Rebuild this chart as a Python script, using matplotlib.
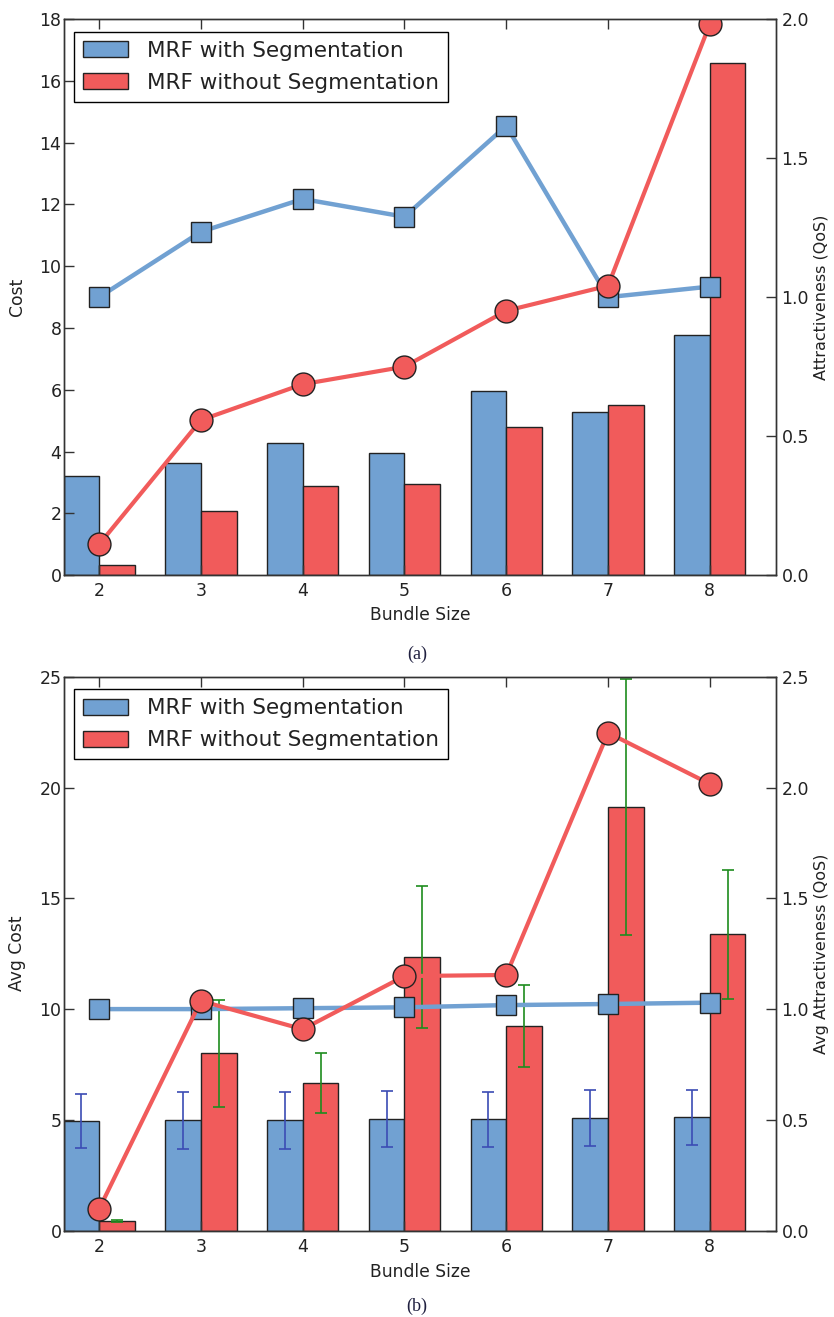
import matplotlib
matplotlib.use("Agg")
import matplotlib.pyplot as plt
import numpy as np

# Bundle sizes on the x axis
bundle_sizes = [2, 3, 4, 5, 6, 7, 8]

# (a) total cost (bars) and attractiveness (lines)
cost_seg = [3.22, 3.62, 4.29, 3.95, 5.97, 5.29, 7.77]
cost_noseg = [0.33, 2.07, 2.90, 2.95, 4.80, 5.52, 16.59]
attr_seg = [1.00, 1.235, 1.353, 1.289, 1.616, 1.00, 1.038]
attr_noseg = [0.111, 0.558, 0.687, 0.75, 0.951, 1.041, 1.982]

# (b) average cost with spread (bars) and average attractiveness (lines)
avg_cost_seg = [4.95, 4.98, 4.98, 5.03, 5.03, 5.10, 5.12]
avg_cost_seg_err = [1.24, 1.28, 1.28, 1.26, 1.25, 1.27, 1.25]
avg_cost_noseg = [0.44, 8.0, 6.65, 12.36, 9.24, 19.13, 13.37]
avg_cost_noseg_err = [0.05, 2.42, 1.35, 3.2, 1.85, 5.77, 2.9]
avg_attr_seg = [1.0, 1.0, 1.004, 1.008, 1.018, 1.023, 1.029]
avg_attr_noseg = [0.098, 1.037, 0.909, 1.149, 1.154, 2.247, 2.016]

series_labels = ["MRF with Segmentation", "MRF without Segmentation"]

BLUE = "#71A1D2"
RED = "#F15B5B"
EDGE = "#222222"
SPINE = "#333333"
TEXT = "#222222"

plt.rcParams["font.family"] = ["DejaVu Sans"]
plt.rcParams["text.color"] = TEXT
plt.rcParams["axes.labelcolor"] = TEXT
plt.rcParams["xtick.color"] = SPINE
plt.rcParams["ytick.color"] = SPINE
plt.rcParams["xtick.labelcolor"] = TEXT
plt.rcParams["ytick.labelcolor"] = TEXT

W, H = 834, 1317
fig = plt.figure(figsize=(W / 100, H / 100), dpi=100)

def px_axes(left, top, right, bottom):
    return fig.add_axes([left / W, 1 - bottom / H, (right - left) / W, (bottom - top) / H])

width = 0.35
x = np.array(bundle_sizes, dtype=float)
TICK_FS = 12.5
LABEL_FS = 12.3


def style_axes(ax, ax2):
    for a in (ax, ax2):
        for s in a.spines.values():
            s.set_color(SPINE)
            s.set_linewidth(1.0)
    ax.tick_params(axis="x", direction="in", top=True, bottom=True, length=7, width=1,
                   labelsize=TICK_FS, pad=5)
    ax.tick_params(axis="y", direction="in", left=True, right=False, length=7, width=1,
                   labelsize=TICK_FS, pad=1.5)
    ax2.tick_params(axis="y", direction="in", right=True, left=False, length=7, width=1,
                    labelsize=TICK_FS, pad=4)


def draw_panel(ax, ax2, seg_vals, noseg_vals, seg_line, noseg_line,
               ymax, y2max, ylabel, y2label, xlabel_y, seg_err=None, noseg_err=None):
    ax.bar(x - width, seg_vals, width, align="edge", color=BLUE, edgecolor=EDGE,
           linewidth=1.0, label=series_labels[0])
    ax.bar(x, noseg_vals, width, align="edge", color=RED, edgecolor=EDGE,
           linewidth=1.0, label=series_labels[1])
    if seg_err is not None:
        ax.errorbar(x - width / 2, seg_vals, yerr=seg_err, fmt="none",
                    ecolor="#3B4CB4", elinewidth=1.2, capsize=4, capthick=1.2)
        ax.errorbar(x + width / 2, noseg_vals, yerr=noseg_err, fmt="none",
                    ecolor="#1E8C1E", elinewidth=1.2, capsize=4, capthick=1.2)

    ax2.plot(x, seg_line, "-s", color=BLUE, linewidth=3.2, markersize=15,
             markerfacecolor=BLUE, markeredgecolor=EDGE, markeredgewidth=1.0)
    ax2.plot(x, noseg_line, "-o", color=RED, linewidth=3.0, markersize=16.5,
             markerfacecolor=RED, markeredgecolor=EDGE, markeredgewidth=1.0)

    ax.set_xlim(1.65, 8.65)
    ax.set_ylim(0, ymax)
    ax2.set_ylim(0, y2max)
    ax.set_xticks(bundle_sizes)
    ax.set_xlabel("Bundle Size", fontsize=LABEL_FS)
    ax.set_ylabel(ylabel, fontsize=LABEL_FS)
    ax2.set_ylabel(y2label, fontsize=11.5)
    ax.xaxis.set_label_coords(0.5, xlabel_y)
    ax.yaxis.set_label_coords(-0.0526, 0.5)
    ax2.yaxis.set_label_coords(1.053, 0.5)

    leg = ax.legend(loc="upper left", bbox_to_anchor=(0.0147, 0.977), borderaxespad=0,
                    fontsize=15.5, handlelength=2.1, handleheight=0.75,
                    handletextpad=0.85, labelspacing=0.55, borderpad=0.42,
                    fancybox=False, framealpha=1, edgecolor="black")
    leg.get_frame().set_linewidth(1.0)
    style_axes(ax, ax2)


# Panel (a)
ax_a = px_axes(63.5, 19, 776, 575.3)
ax_a2 = ax_a.twinx()
draw_panel(ax_a, ax_a2, cost_seg, cost_noseg, attr_seg, attr_noseg,
           18, 2.0, "Cost", "Attractiveness (QoS)", -0.056)
ax_a.set_yticks(np.arange(0, 19, 2))
ax_a2.set_yticks(np.arange(0, 2.01, 0.5))
ax_a2.yaxis.set_major_formatter(matplotlib.ticker.FormatStrFormatter("%.1f"))

# Panel (b)
ax_b = px_axes(63.5, 676.7, 776, 1230.7)
ax_b2 = ax_b.twinx()
draw_panel(ax_b, ax_b2, avg_cost_seg, avg_cost_noseg, avg_attr_seg, avg_attr_noseg,
           25, 2.5, "Avg Cost", "Avg Attractiveness (QoS)", -0.059,
           seg_err=avg_cost_seg_err, noseg_err=avg_cost_noseg_err)
ax_b.set_yticks(np.arange(0, 26, 5))
ax_b2.set_yticks(np.arange(0, 2.51, 0.5))
ax_b2.yaxis.set_major_formatter(matplotlib.ticker.FormatStrFormatter("%.1f"))

# Sub-figure captions
fig.text(0.5, 1 - 654 / H, "(a)", ha="center", va="center", fontsize=13,
         family=["Liberation Serif", "DejaVu Serif"], color="#202040")
fig.text(0.5, 1 - 1306 / H, "(b)", ha="center", va="center", fontsize=13,
         family=["Liberation Serif", "DejaVu Serif"], color="#202040")

fig.savefig("out.png", dpi=100)
